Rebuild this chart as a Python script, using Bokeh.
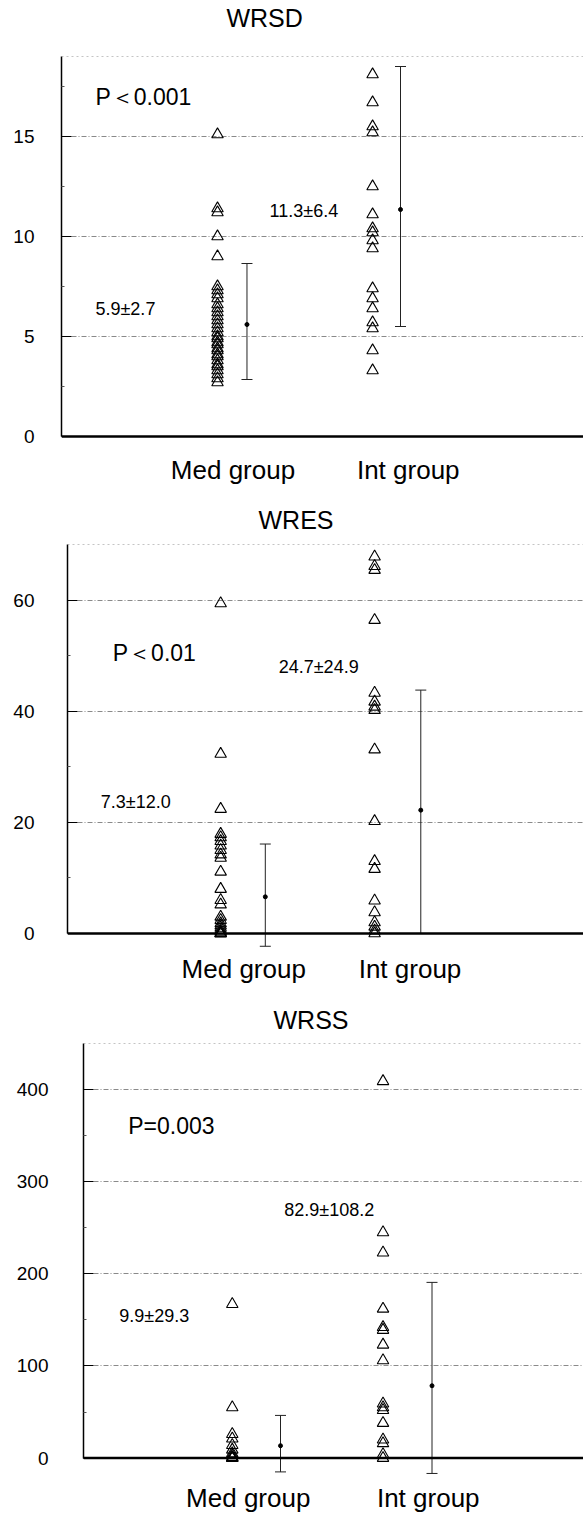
from bokeh.plotting import figure
from bokeh.models import (Range1d, FixedTicker, Whisker, ColumnDataSource, Label, Span, TeeHead,
                          LinearAxis)
from bokeh.layouts import column
from bokeh.embed import file_html
from bokeh.resources import INLINE

groups = ["Med group", "Int group"]

# ---- WRSD ----
wrsd_med = [15.1, 11.4, 11.2, 10.0, 9.0, 7.5, 7.3, 7.1, 6.9, 6.6, 6.4, 6.2, 6.0, 5.8, 5.6,
            5.4, 5.2, 5.0, 4.9, 4.7, 4.6, 4.4, 4.3, 4.1, 4.0, 3.8, 3.6, 3.5, 3.3, 3.1, 2.9, 2.7]
wrsd_int = [18.1, 16.7, 15.5, 15.2, 12.5, 11.1, 10.4, 10.2, 9.8, 9.4, 7.4, 6.9, 6.4, 5.7, 5.4, 4.3, 3.3]
wrsd_mean = [5.6, 11.35]
wrsd_lower = [2.85, 5.5]
wrsd_upper = [8.65, 18.5]
wrsd_stats = ["5.9±2.7", "11.3±6.4"]
wrsd_p = "P＜0.001"
wrsd_ticks = [0, 5, 10, 15]

# ---- WRES ----
wres_med = [59.4, 32.3, 22.4, 17.9, 17.3, 16.6, 15.8, 15.0, 14.2, 13.6, 11.1, 8.0, 6.0, 5.2,
            3.0, 2.4, 1.8, 1.4, 1.0, 0.6, 0.3, 0.0, 0.0, 0.0]
wres_int = [67.8, 66.1, 65.4, 56.4, 43.3, 41.7, 40.8, 40.2, 33.1, 20.2, 13.0, 11.6, 5.9, 3.8,
            2.0, 1.2, 0.5, 0.0]
wres_mean = [6.6, 22.2]
wres_lower = [-2.3, 0.0]
wres_upper = [16.1, 43.8]
wres_stats = ["7.3±12.0", "24.7±24.9"]
wres_p = "P＜0.01"
wres_ticks = [0, 20, 40, 60]

# ---- WRSS ----
wrss_med = [167, 55, 26, 21, 14, 9, 5, 3, 1, 0, 0]
wrss_int = [409, 245, 223, 162, 142, 139, 123, 106, 59, 55, 52, 38, 20, 16, 4, 0]
wrss_mean = [13.4, 78.5]
wrss_lower = [-15.0, -16.7]
wrss_upper = [46.3, 190.7]
wrss_stats = ["9.9±29.3", "82.9±108.2"]
wrss_p = "P=0.003"
wrss_ticks = [0, 100, 200, 300, 400]

FONT = "Liberation Sans"


def make_panel(title, med, intg, mean, lower, upper, stats, ptext, yticks, ymax, minor,
               cfg):
    p = figure(width=583, height=cfg["height"], output_backend="svg", toolbar_location=None,
               x_range=Range1d(cfg["x0"], cfg["x1"]), y_range=Range1d(cfg["y0"], ymax),
               min_border_left=cfg["bl"], min_border_right=0,
               min_border_top=cfg["bt"], min_border_bottom=cfg["bb"])
    try:
        p.frame_align = False
    except Exception:
        pass
    if cfg.get("taxis") is not None:
        # heading drawn as the label of a bare axis above the frame
        p.title = None
        tx = cfg["taxis"]
        ta = LinearAxis(ticker=FixedTicker(ticks=[tx]), major_label_overrides={tx: title})
        ta.major_label_text_font = FONT
        ta.major_label_text_font_size = "25px"
        ta.major_label_text_color = "black"
        ta.axis_line_color = None
        ta.major_tick_line_color = None
        ta.minor_tick_line_color = None
        ta.major_label_standoff = cfg["tstand"]
        p.add_layout(ta, "above")
    else:
        p.title.text = title
        p.title.text_font = FONT
        p.title.text_font_size = "25px"
        p.title.text_font_style = "normal"
        p.title.text_color = "black"
        p.title.align = "left"
        p.title.offset = cfg["toff"]
        p.title.standoff = cfg["tstand"]
    p.outline_line_color = None
    p.background_fill_color = "white"

    # grid
    p.xgrid.visible = False
    p.ygrid.ticker = FixedTicker(ticks=yticks)
    p.ygrid.grid_line_color = "#8a8a8a"
    p.ygrid.grid_line_dash = "5 2 1 2"
    p.ygrid.grid_line_width = 1
    p.add_layout(Span(location=ymax, dimension="width", line_color="#8a8a8a",
                      line_dash="2 3", line_width=1))

    # y axis
    ya = p.yaxis[0]
    ya.ticker = FixedTicker(ticks=yticks, minor_ticks=minor)
    ya.bounds = (0, ymax)
    ya.major_label_text_font = FONT
    ya.major_label_text_font_size = "19px"
    ya.major_label_text_color = "black"
    ya.axis_line_color = "black"
    ya.axis_line_width = 1.5
    ya.major_tick_in = 10
    ya.major_tick_out = 0
    ya.minor_tick_in = 3
    ya.minor_tick_out = 0
    ya.major_tick_line_color = "black"
    ya.minor_tick_line_color = "#555555"
    ya.major_label_standoff = cfg["ystand"]

    # x axis (baseline drawn at zero)
    xa = p.below[0]
    lp = cfg["labels"]
    xa.ticker = FixedTicker(ticks=lp)
    xa.major_label_overrides = {lp[0]: groups[0], lp[1]: groups[1]}
    xa.major_label_text_font = FONT
    xa.major_label_text_font_size = "26px"
    xa.major_label_text_color = "black"
    xa.axis_line_color = None
    xa.major_tick_line_color = None
    xa.minor_tick_line_color = None
    xa.major_label_standoff = cfg["xstand"]
    p.add_layout(Span(location=0, dimension="width", line_color="black", line_width=2.5))

    # points
    for gi, vals in enumerate([med, intg]):
        p.scatter(x=[gi + 1] * len(vals), y=vals, marker="triangle", size=11.5,
                  fill_color=None, line_color="black", line_width=1.1)

    # error bars
    src = ColumnDataSource(dict(x=[1 + cfg["eo"][0], 2 + cfg["eo"][1]], m=mean,
                                lo=lower, hi=upper))
    w = Whisker(source=src, base="x", lower="lo", upper="hi", dimension="height",
                line_color="#222222", line_width=1,
                upper_head=TeeHead(size=11, line_color="#222222", line_width=1),
                lower_head=TeeHead(size=11, line_color="#222222", line_width=1))
    p.add_layout(w)
    p.scatter(x="x", y="m", source=src, marker="circle", size=4, color="black")

    # texts
    p.add_layout(Label(x=cfg["ppos"][0], y=cfg["ppos"][1], text=ptext, text_font=FONT,
                       text_font_size="23px", text_baseline="middle", text_align="left",
                       text_color="black"))
    for s, pos in zip(stats, cfg["spos"]):
        p.add_layout(Label(x=pos[0], y=pos[1], text=s, text_font=FONT,
                           text_font_size="18px", text_baseline="middle", text_align="left",
                           text_color="black"))
    return p


cfg1 = dict(height=490, bt=54, bb=52, bl=61, x0=-0.006, x1=3.36, y0=-0.1, eo=[0.19, 0.18],
            labels=[1.10, 2.23], taxis=1.304, tstand=19, ystand=27, xstand=10,
            ppos=(0.213, 17.0), spos=[(0.213, 6.38), (1.336, 11.26)])
cfg2 = dict(height=500, bt=54, bb=42, bl=67, x0=0.005, x1=3.357, y0=-2.7, eo=[0.29, 0.30],
            labels=[1.15, 2.23], toff=191, tstand=22, ystand=33, xstand=-1,
            ppos=(0.299, 50.4), spos=[(0.221, 23.7), (1.377, 48.0)])
cfg3 = dict(height=540, bt=53, bb=54, bl=83, x0=0.013, x1=3.33, y0=-20, eo=[0.32, 0.325],
            labels=[1.106, 2.30], toff=190, tstand=19, ystand=35, xstand=0,
            ppos=(0.310, 360.8), spos=[(0.250, 153.7), (1.345, 269.0)])

p1 = make_panel("WRSD", wrsd_med, wrsd_int, wrsd_mean, wrsd_lower, wrsd_upper, wrsd_stats,
                wrsd_p, wrsd_ticks, 19, [2.5, 7.5, 12.5, 17.5], cfg1)
p2 = make_panel("WRES", wres_med, wres_int, wres_mean, wres_lower, wres_upper, wres_stats,
                wres_p, wres_ticks, 70, [10, 30, 50], cfg2)
p3 = make_panel("WRSS", wrss_med, wrss_int, wrss_mean, wrss_lower, wrss_upper, wrss_stats,
                wrss_p, wrss_ticks, 450, [50, 150, 250, 350], cfg3)

layout = column(p1, p2, p3, spacing=0)
open("out.html", "w").write(file_html(layout, INLINE))
